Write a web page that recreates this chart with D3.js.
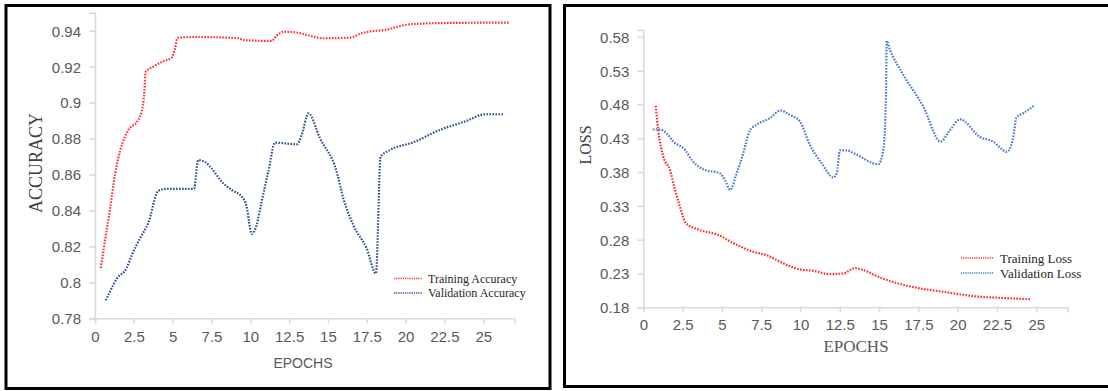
<!DOCTYPE html>
<html>
<head>
<meta charset="utf-8">
<script src="https://cdn.jsdelivr.net/npm/d3@7"></script>
<style>
  body { margin: 0; background: #fff; }
  .tick text { font-family: "Liberation Sans", Arial, sans-serif; font-size: 15px; fill: #595959; }
  .legend text { font-family: "Liberation Serif", "Times New Roman", serif; fill: #262626; }
</style>
</head>
<body>
<svg class="chart-svg" width="1108" height="391"></svg>
<script>
// accuracy panel
const trainAccEpochs = [0.37, 0.64, 0.97, 1.29, 1.61, 1.93, 2.25, 2.68, 3.0, 3.18, 3.26, 3.76, 4.4, 4.94, 5.15, 5.32, 6.44, 9.23, 9.66, 11.38, 11.7, 12.13, 12.88, 13.7, 14.7, 16.42, 17.17, 19.0, 19.64, 20.5, 22.86, 26.72];
const trainAcc = [0.808, 0.823, 0.841, 0.86, 0.873, 0.881, 0.886, 0.889, 0.895, 0.906, 0.917, 0.92, 0.923, 0.925, 0.93, 0.936, 0.9365, 0.9358, 0.9347, 0.9343, 0.9372, 0.9394, 0.9391, 0.9375, 0.9358, 0.9361, 0.9386, 0.941, 0.9426, 0.9437, 0.9443, 0.9445];
const valAccEpochs = [0.69, 0.97, 1.4, 2.04, 2.36, 2.9, 3.43, 4.08, 4.62, 6.37, 6.65, 7.08, 7.5, 8.16, 8.8, 9.45, 9.77, 9.92, 10.09, 10.41, 10.73, 11.16, 11.59, 12.99, 13.31, 13.74, 14.49, 15.56, 15.99, 16.63, 17.49, 18.09, 18.39, 18.99, 20.5, 22.21, 23.93, 25.11, 26.29];
const valAcc = [0.79, 0.795, 0.802, 0.808, 0.815, 0.8245, 0.833, 0.851, 0.852, 0.852, 0.868, 0.867, 0.8634, 0.856, 0.8514, 0.8477, 0.8421, 0.8337, 0.8269, 0.8319, 0.8449, 0.8616, 0.8777, 0.8768, 0.882, 0.894, 0.8801, 0.8616, 0.8468, 0.8319, 0.8189, 0.805, 0.8699, 0.8736, 0.8779, 0.8848, 0.8898, 0.8935, 0.8935];
const accTicks = [0.78, 0.8, 0.82, 0.84, 0.86, 0.88, 0.9, 0.92, 0.94];

// loss panel
const trainLossEpochs = [0.79, 0.95, 1.27, 1.7, 2.02, 2.33, 2.72, 3.5, 4.77, 5.73, 7.0, 7.85, 8.9, 9.97, 10.81, 11.88, 12.72, 13.47, 14.0, 15.06, 16.33, 17.6, 19.08, 21.21, 22.69, 24.6];
const trainLoss = [0.478, 0.442, 0.403, 0.383, 0.3535, 0.329, 0.304, 0.295, 0.287, 0.275, 0.262, 0.257, 0.245, 0.236, 0.234, 0.229, 0.23, 0.238, 0.235, 0.224, 0.2145, 0.208, 0.203, 0.196, 0.194, 0.192];
const valLossEpochs = [0.6, 1.06, 1.49, 1.91, 2.65, 3.08, 3.82, 4.88, 5.2, 5.52, 5.94, 6.36, 6.79, 7.21, 8.06, 8.74, 9.33, 9.97, 10.6, 11.35, 12.09, 12.3, 12.51, 12.94, 13.47, 14.95, 15.27, 15.44, 15.48, 15.69, 16.54, 17.81, 18.92, 19.51, 20.15, 21.42, 22.26, 23.12, 23.5, 23.75, 24.17, 24.92];
const valLoss = [0.443, 0.443, 0.437, 0.425, 0.413, 0.398, 0.384, 0.378, 0.368, 0.3535, 0.378, 0.408, 0.442, 0.45, 0.46, 0.471, 0.4645, 0.4546, 0.42, 0.393, 0.372, 0.378, 0.412, 0.412, 0.407, 0.3915, 0.413, 0.4915, 0.574, 0.561, 0.524, 0.477, 0.425, 0.442, 0.458, 0.432, 0.425, 0.41, 0.4275, 0.461, 0.467, 0.479];
const lossTicks = [0.18, 0.23, 0.28, 0.33, 0.38, 0.43, 0.48, 0.53, 0.58];

const epochTicks = [0, 2.5, 5, 7.5, 10, 12.5, 15, 17.5, 20, 22.5, 25];

const svg = d3.select(".chart-svg");

// panel frames
svg.append("rect").attr("x", 6).attr("y", 5.5).attr("width", 544).attr("height", 383)
  .attr("fill", "none").attr("stroke", "#000").attr("stroke-width", 3);
svg.append("rect").attr("x", 564.5).attr("y", 5.5).attr("width", 560).attr("height", 381)
  .attr("fill", "none").attr("stroke", "#000").attr("stroke-width", 3);

function drawPanel(cfg) {
  const x = d3.scaleLinear().domain([0, 27]).range(cfg.xRange);
  const y = d3.scaleLinear().domain(cfg.yDomain).range(cfg.yRange);
  const g = svg.append("g");

  const xAxis = g.append("g")
    .attr("transform", `translate(0,${cfg.yRange[0]})`)
    .call(d3.axisBottom(x).tickValues(epochTicks).tickFormat(d => String(d)).tickSize(5).tickPadding(cfg.xPad));
  const yAxis = g.append("g")
    .attr("transform", `translate(${cfg.xRange[0]},0)`)
    .call(d3.axisLeft(y).tickValues(cfg.yTicks).tickFormat(d => String(+d.toFixed(2))).tickSize(6).tickPadding(8));
  [xAxis, yAxis].forEach(a => {
    a.select(".domain").attr("stroke", "#d9d9d9").attr("stroke-width", 1.5);
    a.selectAll(".tick line").attr("stroke", "#d9d9d9").attr("stroke-width", 1.5);
  });
  yAxis.selectAll(".tick text").attr("dy", "0.36em");

  const line = d3.line()
    .x(d => x(d[0]))
    .y(d => y(d[1]))
    .curve(d3.curveMonotoneX);

  cfg.series.forEach(s => {
    g.append("path")
      .datum(d3.zip(s.epochs, s.values))
      .attr("fill", "none")
      .attr("stroke", s.color)
      .attr("stroke-width", 2.2)
      .attr("stroke-dasharray", "1.6,1.4")
      .attr("d", line);
  });

  // axis titles
  g.append("text")
    .attr("x", cfg.xTitle.x).attr("y", cfg.xTitle.y)
    .attr("text-anchor", "middle")
    .style("font-family", cfg.xTitle.font)
    .style("font-size", cfg.xTitle.size + "px")
    .style("fill", "#595959")
    .text("EPOCHS");
  g.append("text")
    .attr("transform", `translate(${cfg.yTitle.x},${cfg.yTitle.y}) rotate(-90)`)
    .attr("text-anchor", "middle")
    .style("font-family", '"Liberation Serif", "Times New Roman", serif')
    .style("font-size", cfg.yTitle.size + "px")
    .style("fill", "#404040")
    .text(cfg.yTitle.text);

  // legend
  const lg = g.append("g").attr("class", "legend");
  cfg.series.forEach((s, i) => {
    const ly = cfg.legend.y + i * cfg.legend.gap;
    lg.append("line")
      .attr("x1", cfg.legend.x).attr("x2", cfg.legend.x + cfg.legend.len)
      .attr("y1", ly).attr("y2", ly)
      .attr("stroke", s.color).attr("stroke-width", 1.6)
      .attr("stroke-dasharray", "1.2,1");
    lg.append("text")
      .attr("x", cfg.legend.x + cfg.legend.len + 6).attr("y", ly)
      .attr("dy", "0.35em")
      .style("font-size", cfg.legend.size + "px")
      .text(s.name);
  });
}

drawPanel({
  xRange: [95, 514.3],
  yDomain: [0.78, 0.95],
  yRange: [318.3, 12.7],
  yTicks: accTicks,
  xPad: 8,
  xTitle: { x: 303, y: 368, size: 14, font: '"Liberation Sans", Arial, sans-serif' },
  yTitle: { x: 42, y: 163, size: 18, text: "ACCURACY" },
  legend: { x: 394, y: 278.5, gap: 14.5, len: 28, size: 12 },
  series: [
    { name: "Training Accuracy", epochs: trainAccEpochs, values: trainAcc, color: "#ff3333" },
    { name: "Validation Accuracy", epochs: valAccEpochs, values: valAcc, color: "#2f5090" }
  ]
});

drawPanel({
  xRange: [643.3, 1067.7],
  yDomain: [0.18, 0.59],
  yRange: [307.3, 30.1],
  yTicks: lossTicks,
  xPad: 7,
  xTitle: { x: 856, y: 352, size: 17, font: '"Liberation Serif", "Times New Roman", serif' },
  yTitle: { x: 591, y: 145, size: 16, text: "LOSS" },
  legend: { x: 961, y: 258, gap: 15, len: 33, size: 13 },
  series: [
    { name: "Training Loss", epochs: trainLossEpochs, values: trainLoss, color: "#ff2a2a" },
    { name: "Validation Loss", epochs: valLossEpochs, values: valLoss, color: "#4a78cc" }
  ]
});
</script>
</body>
</html>
